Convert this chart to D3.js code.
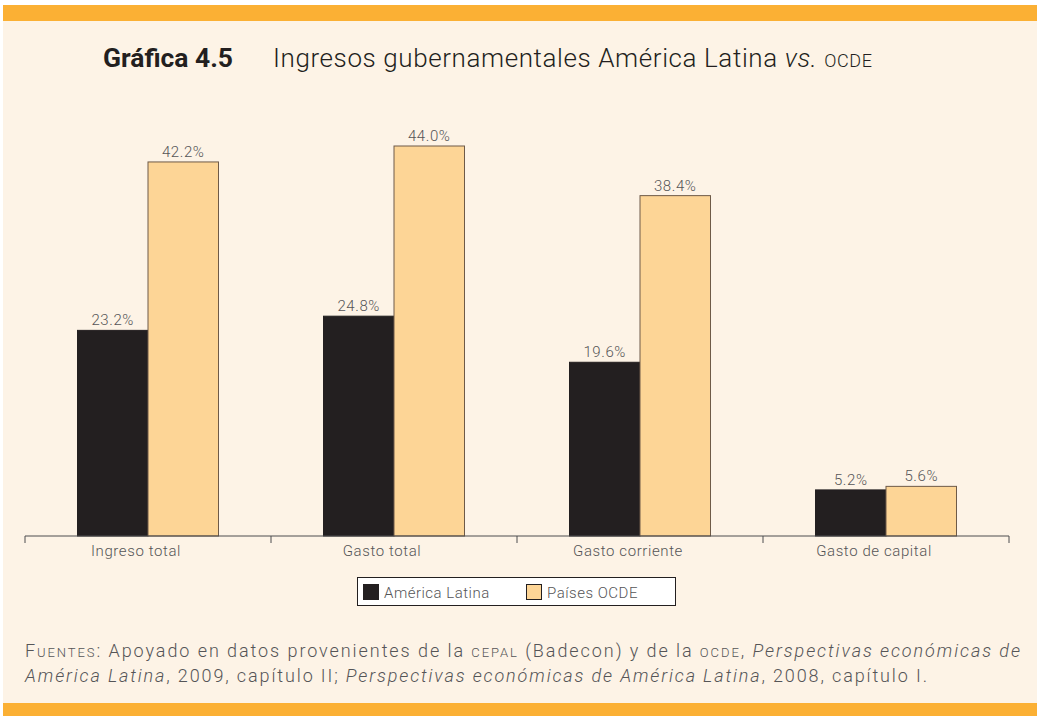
<!DOCTYPE html>
<html>
<head>
<meta charset="utf-8">
<script src="https://cdn.jsdelivr.net/npm/d3@7"></script>
<style>
  body { margin: 0; background: #fff; }
  svg text { font-family: Roboto, "DejaVu Sans", sans-serif; }
</style>
</head>
<body>
<div id="chart"></div>
<script>
(function() {
    var width = 1037,
        height = 716;

    // data
    var categories = ["Ingreso total", "Gasto total", "Gasto corriente", "Gasto de capital"];
    var seriesNames = ["América Latina", "Países OCDE"];
    var latam = [23.2, 24.8, 19.6, 5.2];
    var ocde = [42.2, 44.0, 38.4, 5.6];
    var valueLabels = [["23.2%", "24.8%", "19.6%", "5.2%"], ["42.2%", "44.0%", "38.4%", "5.6%"]];
    var colors = ["#231f20", "#fdd596"];
    var textGray = "#555557";

    var svg = d3.select("#chart")
        .append("svg")
        .attr("width", width)
        .attr("height", height)

    // background + orange bands
    svg.append("rect").attr("width", width).attr("height", height).attr("fill", "#fdf3e6")
    svg.append("rect").attr("x", 0).attr("y", 0).attr("width", width).attr("height", 5).attr("fill", "#ffffff")
    svg.append("rect").attr("x", 3).attr("y", 5).attr("width", width - 3).attr("height", 16).attr("fill", "#fbb034")
    svg.append("rect").attr("x", 3).attr("y", 703).attr("width", width - 3).attr("height", 13).attr("fill", "#fbb034")
    svg.append("rect").attr("x", 0).attr("y", 0).attr("width", 3).attr("height", height).attr("fill", "#ffffff")

    // title
    svg.append("text")
        .attr("x", 103).attr("y", 67)
        .attr("font-size", 26).attr("font-weight", "bold").attr("fill", "#231f20")
        .attr("textLength", 130).attr("lengthAdjust", "spacingAndGlyphs")
        .text("Gráfica 4.5")

    var t = svg.append("text")
        .attr("x", 273).attr("y", 67)
        .attr("font-size", 26).attr("font-weight", 300).attr("fill", "#231f20")
        .attr("textLength", 599).attr("lengthAdjust", "spacing")
    t.append("tspan").text("Ingresos gubernamentales América Latina ")
    t.append("tspan").attr("font-style", "italic").text("vs. ")
    t.append("tspan").attr("font-size", 18).text("OCDE")

    var x0 = d3.scaleBand()
        .domain(categories)
        .range([25, 1009])

    var x1 = d3.scaleBand()
        .domain([0, 1])
        .range([x0.bandwidth() / 2 - 70.5, x0.bandwidth() / 2 + 70.5])

    var y = d3.scaleLinear()
        .domain([0, 44])
        .range([536, 146])

    var series = [latam, ocde];

    var groups = svg.selectAll(".group")
        .data(categories)
        .enter().append("g")
        .attr("class", "group")
        .attr("transform", function(d) { return "translate(" + x0(d) + ",0)" })

    groups.selectAll("rect")
        .data(function(d, i) { return [0, 1].map(function(s) { return {s: s, i: i, v: series[s][i]} }) })
        .enter().append("rect")
        .attr("x", function(d) { return x1(d.s) })
        .attr("y", function(d) { return y(d.v) })
        .attr("width", x1.bandwidth())
        .attr("height", function(d) { return y(0) - y(d.v) })
        .attr("fill", function(d) { return colors[d.s] })
        .attr("stroke", function(d) { return d.s === 0 ? "#231f20" : "#6e5a48" })
        .attr("stroke-width", 1)

    groups.selectAll(".value-label")
        .data(function(d, i) { return [0, 1].map(function(s) { return {s: s, i: i, v: series[s][i]} }) })
        .enter().append("text")
        .attr("class", "value-label")
        .attr("x", function(d) { return x1(d.s) + x1.bandwidth() / 2 })
        .attr("y", function(d) { return y(d.v) - 5 })
        .attr("text-anchor", "middle")
        .attr("font-size", 15).attr("font-weight", 300)
        .attr("letter-spacing", 0.6)
        .attr("fill", textGray)
        .text(function(d) { return valueLabels[d.s][d.i] })

    // axis
    var axis = svg.append("g")
        .attr("transform", "translate(0,536)")
        .call(d3.axisBottom(x0).tickSize(0).tickPadding(9))
    axis.select(".domain").attr("stroke", "#4d4d4f").attr("d", "M25,0H1009")
    axis.selectAll("text")
        .attr("font-size", 15).attr("font-weight", 300).attr("fill", textGray)
        .attr("letter-spacing", 0.6)
        .attr("dx", -12)
        .attr("font-family", "Roboto, sans-serif")

    var tickPos = [0, 1, 2, 3, 4].map(function(i) { return 25 + i * x0.step() })
    axis.selectAll(".sep")
        .data(tickPos)
        .enter().append("line")
        .attr("x1", function(d) { return d }).attr("x2", function(d) { return d })
        .attr("y1", 0).attr("y2", 7)
        .attr("stroke", "#4d4d4f")

    // legend
    var legend = svg.append("g")
    legend.append("rect")
        .attr("x", 357.5).attr("y", 577.5).attr("width", 318).attr("height", 28)
        .attr("fill", "#ffffff").attr("stroke", "#231f20")
    var legX = [363, 526]
    seriesNames.forEach(function(name, i) {
        legend.append("rect")
            .attr("x", legX[i] + 0.5).attr("y", 584.5).attr("width", 15).attr("height", 15)
            .attr("fill", colors[i]).attr("stroke", "#231f20")
        legend.append("text")
            .attr("x", legX[i] + 21).attr("y", 598)
            .attr("font-size", 15).attr("font-weight", 300).attr("fill", textGray)
            .attr("letter-spacing", 0.5)
            .text(name)
    })

    // source note
    var f1 = svg.append("text")
        .attr("x", 25).attr("y", 657)
        .attr("font-size", 18).attr("font-weight", 300).attr("fill", textGray)
        .attr("textLength", 995).attr("lengthAdjust", "spacing")
    f1.append("tspan").text("F")
    f1.append("tspan").attr("font-size", 13).text("UENTES")
    f1.append("tspan").text(": Apoyado en datos provenientes de la ")
    f1.append("tspan").attr("font-size", 13).text("CEPAL")
    f1.append("tspan").text(" (Badecon) y de la ")
    f1.append("tspan").attr("font-size", 13).text("OCDE")
    f1.append("tspan").text(", ")
    f1.append("tspan").attr("font-style", "italic").text("Perspectivas económicas de")

    var f2 = svg.append("text")
        .attr("x", 25).attr("y", 682)
        .attr("font-size", 18).attr("font-weight", 300).attr("fill", textGray)
        .attr("textLength", 902).attr("lengthAdjust", "spacing")
    f2.append("tspan").attr("font-style", "italic").text("América Latina")
    f2.append("tspan").text(", 2009, capítulo II; ")
    f2.append("tspan").attr("font-style", "italic").text("Perspectivas económicas de América Latina")
    f2.append("tspan").text(", 2008, capítulo I.")
})();
</script>
</body>
</html>
